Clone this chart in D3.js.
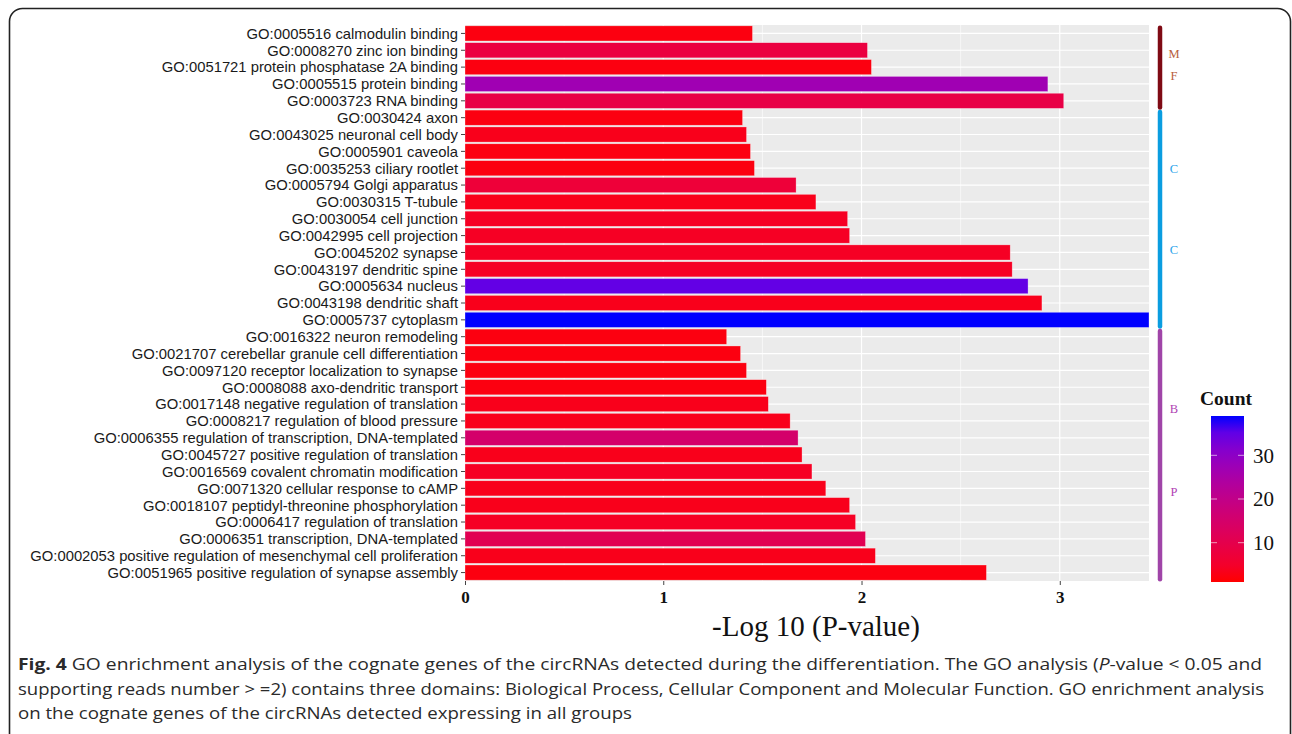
<!DOCTYPE html>
<html>
<head>
<meta charset="utf-8">
<script src="https://cdn.jsdelivr.net/npm/d3@7"></script>
<style>
  body { margin: 0; background: #fff; }
  svg { display: block; }
</style>
</head>
<body>
<svg id="chart" width="1292" height="734"></svg>
<script>
// GO terms, top to bottom
var terms = [
  "GO:0005516 calmodulin binding",
  "GO:0008270 zinc ion binding",
  "GO:0051721 protein phosphatase 2A binding",
  "GO:0005515 protein binding",
  "GO:0003723 RNA binding",
  "GO:0030424 axon",
  "GO:0043025 neuronal cell body",
  "GO:0005901 caveola",
  "GO:0035253 ciliary rootlet",
  "GO:0005794 Golgi apparatus",
  "GO:0030315 T-tubule",
  "GO:0030054 cell junction",
  "GO:0042995 cell projection",
  "GO:0045202 synapse",
  "GO:0043197 dendritic spine",
  "GO:0005634 nucleus",
  "GO:0043198 dendritic shaft",
  "GO:0005737 cytoplasm",
  "GO:0016322 neuron remodeling",
  "GO:0021707 cerebellar granule cell differentiation",
  "GO:0097120 receptor localization to synapse",
  "GO:0008088 axo-dendritic transport",
  "GO:0017148 negative regulation of translation",
  "GO:0008217 regulation of blood pressure",
  "GO:0006355 regulation of transcription, DNA-templated",
  "GO:0045727 positive regulation of translation",
  "GO:0016569 covalent chromatin modification",
  "GO:0071320 cellular response to cAMP",
  "GO:0018107 peptidyl-threonine phosphorylation",
  "GO:0006417 regulation of translation",
  "GO:0006351 transcription, DNA-templated",
  "GO:0002053 positive regulation of mesenchymal cell proliferation",
  "GO:0051965 positive regulation of synapse assembly"
];

// -log10(P-value)
var logP = [
  1.45, 2.03, 2.05, 2.94, 3.02,
  1.40, 1.42, 1.44, 1.46, 1.67, 1.77, 1.93, 1.94, 2.75, 2.76, 2.84, 2.91, 3.45,
  1.32, 1.39, 1.42, 1.52, 1.53, 1.64, 1.68, 1.70, 1.75, 1.82, 1.94, 1.97, 2.02, 2.07, 2.63
];

// gene counts (bar fill)
var counts = [
  2, 8, 2, 27, 9,
  2, 3, 2, 2, 7, 3, 4, 4, 4, 4, 35, 3, 39,
  2, 2, 2, 2, 3, 3, 15, 3, 4, 3, 3, 4, 11, 3, 2
];

var domains = ["MF", "CC", "BP"];
var domainFirst = [0, 5, 18];
var domainLast = [4, 17, 32];
// where the two letters of each domain sit along its bracket
var letterPos = [[0.38, 0.65], [0.283, 0.66], [0.33, 0.665]];

var xTicks = [0, 1, 2, 3];
var xMinor = [0.5, 1.5, 2.5];
var legendTicks = [10, 20, 30];

var captionLines = [
  [["Fig. 4", "bold"], [" GO enrichment analysis of the cognate genes of the circRNAs detected during the differentiation. The GO analysis (", ""], ["P", "italic"], ["-value < 0.05 and", ""]],
  [["supporting reads number > =2) contains three domains: Biological Process, Cellular Component and Molecular Function. GO enrichment analysis", ""]],
  [["on the cognate genes of the circRNAs detected expressing in all groups", ""]]
];
var captionWidths = [1244, 1246, 614];

var svg = d3.select("#chart");

// outer frame
svg.append("rect")
  .attr("x", 9.5).attr("y", 8.5)
  .attr("width", 1281).attr("height", 760)
  .attr("rx", 13)
  .attr("fill", "none")
  .attr("stroke", "#222")
  .attr("stroke-width", 1.6);

var pLeft = 465, pRight = 1149, pTop = 25, pBottom = 581;

var x = d3.scaleLinear().domain([0, 3.45]).range([pLeft, pRight]);
var y = d3.scaleBand().domain(terms).range([pTop, pBottom]).paddingInner(0.1).paddingOuter(0.05);
var color = d3.scaleLinear().domain([1, 39]).range(["red", "blue"]).interpolate(d3.interpolateLab);

var g = svg.append("g");

g.append("rect")
  .attr("x", pLeft).attr("y", pTop)
  .attr("width", pRight - pLeft).attr("height", pBottom - pTop)
  .attr("fill", "#ebebeb");

g.selectAll(".minor")
  .data(xMinor)
  .enter().append("line")
  .attr("x1", d => x(d)).attr("x2", d => x(d))
  .attr("y1", pTop).attr("y2", pBottom)
  .attr("stroke", "#fff").attr("stroke-width", 0.6);

g.selectAll(".major")
  .data(xTicks)
  .enter().append("line")
  .attr("x1", d => x(d)).attr("x2", d => x(d))
  .attr("y1", pTop).attr("y2", pBottom)
  .attr("stroke", "#fff").attr("stroke-width", 1.2);

g.selectAll(".hgrid")
  .data(terms)
  .enter().append("line")
  .attr("x1", pLeft).attr("x2", pRight)
  .attr("y1", d => y(d) + y.bandwidth() / 2)
  .attr("y2", d => y(d) + y.bandwidth() / 2)
  .attr("stroke", "#fff").attr("stroke-width", 1.2);

g.selectAll(".bar")
  .data(terms)
  .enter().append("rect")
  .attr("x", x(0))
  .attr("y", d => y(d))
  .attr("width", (d, i) => x(logP[i]) - x(0))
  .attr("height", y.bandwidth())
  .attr("fill", (d, i) => color(counts[i]))
  .attr("stroke", "#fff")
  .attr("stroke-opacity", 0.5)
  .attr("stroke-width", 0.6);

// y axis labels
var yAxis = g.append("g")
  .attr("transform", "translate(" + pLeft + ",0)")
  .call(d3.axisLeft(y).tickSize(4).tickPadding(3));
yAxis.select(".domain").remove();
yAxis.selectAll(".tick line").attr("stroke", "#444");
yAxis.selectAll(".tick text")
  .attr("fill", "#1a1a1a")
  .attr("dy", "0.36em")
  .style("font-family", "Liberation Sans, Arial, sans-serif")
  .style("font-size", "14.8px");

// x axis
var xAxis = g.append("g")
  .attr("transform", "translate(0," + pBottom + ")")
  .call(d3.axisBottom(x).tickValues(xTicks).tickFormat(d3.format("d")).tickSize(4).tickPadding(6));
xAxis.select(".domain").remove();
xAxis.selectAll(".tick line").attr("stroke", "#444");
xAxis.selectAll(".tick text")
  .attr("fill", "#111")
  .style("font-family", "Liberation Serif, Times New Roman, serif")
  .style("font-weight", "bold")
  .style("font-size", "17px");

g.append("text")
  .attr("x", 816).attr("y", 636)
  .attr("text-anchor", "middle")
  .style("font-family", "Liberation Serif, Times New Roman, serif")
  .style("font-size", "29px")
  .attr("fill", "#111")
  .text("-Log 10 (P-value)");

// domain brackets
var bracketColors = ["#7f0a14", "#0a9de0", "#a045a8"];
var letterColors = ["#b8603c", "#2aa3ea", "#b043b4"];
var bx = 1160;
domains.forEach(function (dm, i) {
  var y0 = y(terms[domainFirst[i]]) + 2;
  var y1 = y(terms[domainLast[i]]) + y.bandwidth() - 1;
  g.append("line")
    .attr("x1", bx).attr("x2", bx)
    .attr("y1", y0).attr("y2", y1)
    .attr("stroke", bracketColors[i])
    .attr("stroke-width", 4.5)
    .attr("stroke-linecap", "round");
  [dm[0], dm[1]].forEach(function (ch, k) {
    g.append("text")
      .attr("x", 1174).attr("y", y0 + letterPos[i][k] * (y1 - y0))
      .attr("text-anchor", "middle")
      .style("font-family", "Liberation Serif, Times New Roman, serif")
      .style("font-size", "12.5px")
      .attr("fill", letterColors[i])
      .text(ch);
  });
});

// colour legend
var lgTop = 416, lgBottom = 582, lgX = 1211, lgW = 33;
var lgScale = d3.scaleLinear().domain([1, 39]).range([lgBottom, lgTop]);
var defs = svg.append("defs");
var grad = defs.append("linearGradient")
  .attr("id", "countGrad")
  .attr("x1", 0).attr("y1", 1).attr("x2", 0).attr("y2", 0);
d3.range(0, 1.0001, 0.1).forEach(function (t) {
  grad.append("stop")
    .attr("offset", t)
    .attr("stop-color", color(1 + t * 38));
});
g.append("rect")
  .attr("x", lgX).attr("y", lgTop)
  .attr("width", lgW).attr("height", lgBottom - lgTop)
  .attr("fill", "url(#countGrad)");
legendTicks.forEach(function (v) {
  g.append("line").attr("x1", lgX).attr("x2", lgX + 6)
    .attr("y1", lgScale(v)).attr("y2", lgScale(v))
    .attr("stroke", "#fff").attr("stroke-opacity", 0.6).attr("stroke-width", 1);
  g.append("line").attr("x1", lgX + lgW - 6).attr("x2", lgX + lgW)
    .attr("y1", lgScale(v)).attr("y2", lgScale(v))
    .attr("stroke", "#fff").attr("stroke-opacity", 0.6).attr("stroke-width", 1);
});
g.append("g")
  .attr("transform", "translate(" + (lgX + lgW) + ",0)")
  .call(d3.axisRight(lgScale).tickValues(legendTicks).tickSize(0).tickPadding(9))
  .call(a => a.select(".domain").remove())
  .selectAll("text")
  .attr("fill", "#111")
  .style("font-family", "Liberation Serif, Times New Roman, serif")
  .style("font-size", "21px");
g.append("text")
  .attr("x", 1200).attr("y", 405)
  .style("font-family", "Liberation Serif, Times New Roman, serif")
  .style("font-weight", "bold")
  .style("font-size", "19.5px")
  .attr("fill", "#111")
  .text("Count");

// caption
var cap = svg.append("g");
captionLines.forEach(function (parts, i) {
  var t = cap.append("text")
    .attr("x", 18).attr("y", 670 + i * 24.5)
    .attr("textLength", captionWidths[i])
    .attr("lengthAdjust", "spacingAndGlyphs")
    .style("font-family", "Open Sans, Noto Sans, sans-serif")
    .style("font-size", "16.5px")
    .attr("fill", "#2a2a2a");
  parts.forEach(function (p) {
    t.append("tspan")
      .style("font-weight", p[1] === "bold" ? "bold" : null)
      .style("font-style", p[1] === "italic" ? "italic" : null)
      .text(p[0]);
  });
});
</script>
</body>
</html>
